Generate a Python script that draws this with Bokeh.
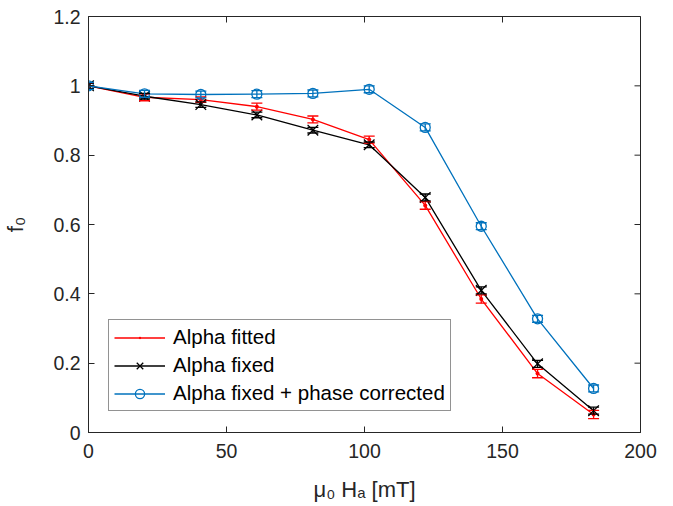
import math
from bokeh.plotting import figure
from bokeh.models import (ColumnDataSource, Whisker, TeeHead, Legend, LegendItem,
                          FixedTicker, CustomJSTickFormatter, Range1d)
from bokeh.embed import file_html
from bokeh.resources import INLINE

# ---- data ----
field_mT = [0, 20.3, 40.7, 61, 81.3, 101.7, 122, 142.3, 162.7, 183]
alpha_fitted = [1.0, 0.967, 0.960, 0.940, 0.903, 0.845, 0.655, 0.385, 0.170, 0.052]
alpha_fitted_err = [0.008, 0.010, 0.008, 0.010, 0.010, 0.010, 0.011, 0.012, 0.012, 0.012]
alpha_fixed = [1.0, 0.970, 0.946, 0.916, 0.872, 0.830, 0.678, 0.410, 0.198, 0.063]
alpha_fixed_err = [0.008, 0.008, 0.008, 0.008, 0.008, 0.008, 0.010, 0.010, 0.010, 0.010]
phase_corr = [1.0, 0.977, 0.975, 0.976, 0.978, 0.990, 0.880, 0.595, 0.328, 0.127]
phase_corr_err = [0.010, 0.010, 0.010, 0.010, 0.010, 0.010, 0.010, 0.010, 0.010, 0.010]
series_names = ["Alpha fitted", "Alpha fixed", "Alpha fixed + phase corrected"]
x_ticks = [0, 50, 100, 150, 200]
y_ticks = [0, 0.2, 0.4, 0.6, 0.8, 1.0, 1.2]
x_lim = (0, 200)
y_lim = (0, 1.2)

FONT = "Liberation Sans"
AX = "#262626"

p = figure(width=673, height=506, output_backend="svg", toolbar_location=None,
           x_range=Range1d(*x_lim), y_range=Range1d(*y_lim),
           min_border_left=88, min_border_right=33, min_border_top=16, min_border_bottom=74,
           x_axis_label="μ₀ Hₐ [mT]", y_axis_label="f₀")
p.background_fill_color = "white"
p.border_fill_color = "white"
p.outline_line_color = AX
p.outline_line_width = 1
p.grid.visible = False

fmt = CustomJSTickFormatter(code="return String(Math.round(tick*10)/10);")

for ax in (p.xaxis[0], p.yaxis[0]):
    ax.axis_line_color = AX
    ax.major_tick_line_color = AX
    ax.major_tick_in = 6
    ax.major_tick_out = 0
    ax.minor_tick_line_color = None
    ax.major_label_text_font = FONT
    ax.major_label_text_font_size = "19.5px"
    ax.major_label_text_color = AX
    ax.axis_label_text_font = FONT
    ax.axis_label_text_font_size = "22px"
    ax.axis_label_text_font_style = "normal"
    ax.axis_label_text_color = AX
    ax.formatter = fmt

p.xaxis[0].ticker = FixedTicker(ticks=x_ticks)
p.yaxis[0].ticker = FixedTicker(ticks=y_ticks)
p.xaxis[0].major_label_standoff = 11
p.yaxis[0].major_label_standoff = 8
p.xaxis[0].axis_label_standoff = 16
p.yaxis[0].axis_label_standoff = 22

# inward ticks on the top and right edges of the box (half of each dash is clipped away)
p.scatter(x=x_ticks, y=[y_lim[1]] * len(x_ticks), marker="dash", size=12,
          angle=math.pi / 2, line_color=AX, line_width=1)
p.scatter(x=[x_lim[1]] * len(y_ticks), y=y_ticks, marker="dash", size=12,
          line_color=AX, line_width=1)

series = [
    (alpha_fitted, alpha_fitted_err, "#FF0000", "dot"),
    (alpha_fixed, alpha_fixed_err, "#000000", "x"),
    (phase_corr, phase_corr_err, "#0072BD", "circle"),
]

items = []
for (vals, errs, col, mk), name in zip(series, series_names):
    src = ColumnDataSource(dict(
        x=field_mT, y=vals,
        upper=[v + e for v, e in zip(vals, errs)],
        lower=[v - e for v, e in zip(vals, errs)],
    ))
    w = Whisker(source=src, base="x", upper="upper", lower="lower",
                line_color=col, line_width=1.3,
                upper_head=TeeHead(size=11, line_color=col, line_width=1.3),
                lower_head=TeeHead(size=11, line_color=col, line_width=1.3),
                level="glyph")
    p.add_layout(w)
    ln = p.line("x", "y", source=src, line_color=col, line_width=1.3)
    if mk == "dot":
        sc = p.scatter("x", "y", source=src, marker="dot", size=16,
                       fill_color=col, line_color=col)
    elif mk == "x":
        sc = p.scatter("x", "y", source=src, marker="x", size=15,
                       line_color=col, line_width=1.3)
    else:
        sc = p.scatter("x", "y", source=src, marker="circle", size=10,
                       fill_color=None, line_color=col, line_width=1.3)
    items.append(LegendItem(label=name, renderers=[ln, sc]))

legend = Legend(items=items, location=(20, 21), margin=0, padding=5, spacing=4,
                glyph_width=51, glyph_height=23, label_height=20, label_standoff=8,
                label_text_font=FONT, label_text_font_size="20.5px", label_text_color="#000000",
                border_line_color=AX, border_line_width=1,
                background_fill_color="white", background_fill_alpha=1)
p.add_layout(legend, "center")

open("out.html", "w").write(file_html(p, INLINE))
